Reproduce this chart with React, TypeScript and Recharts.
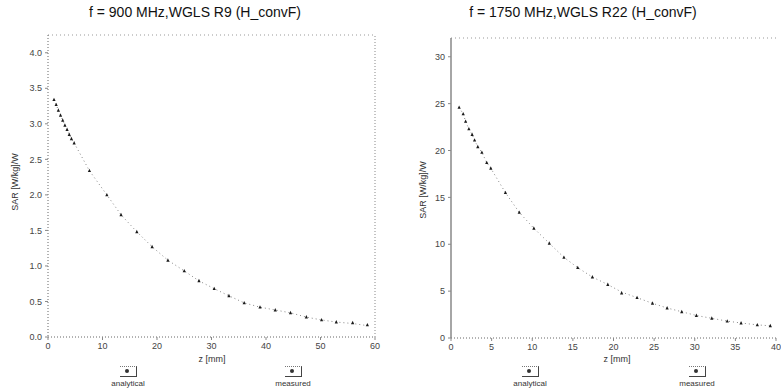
import React from "react";
import { ComposedChart, Line, XAxis, YAxis, ReferenceLine } from "recharts";

// Left panel: f = 900 MHz
const LEFT_Z = [1.1, 1.5, 1.9, 2.3, 2.7, 3.1, 3.5, 3.9, 4.3, 4.8, 7.6, 10.8, 13.4, 16.3, 19.1, 22.0, 25.0, 27.7, 30.5, 33.2, 36.0, 38.9, 41.7, 44.5, 47.4, 50.2, 52.9, 55.9, 58.6];
const LEFT_MEASURED = [3.34, 3.27, 3.19, 3.12, 3.05, 2.98, 2.92, 2.85, 2.79, 2.73, 2.34, 2.0, 1.72, 1.48, 1.27, 1.08, 0.93, 0.79, 0.68, 0.58, 0.48, 0.42, 0.38, 0.34, 0.28, 0.24, 0.21, 0.2, 0.17];
const LEFT_ANALYTICAL = [3.34, 3.27, 3.19, 3.12, 3.05, 2.98, 2.92, 2.85, 2.79, 2.73, 2.34, 2.0, 1.72, 1.48, 1.27, 1.08, 0.93, 0.79, 0.68, 0.58, 0.48, 0.42, 0.38, 0.34, 0.28, 0.24, 0.21, 0.19, 0.16];
const LEFT_X_TICKS = [0, 10, 20, 30, 40, 50, 60];
const LEFT_Y_TICKS = [0, 0.5, 1.0, 1.5, 2.0, 2.5, 3.0, 3.5, 4.0];

// Right panel: f = 1750 MHz
const RIGHT_Z = [1.0, 1.5, 1.8, 2.2, 2.6, 2.9, 3.3, 3.8, 4.4, 4.9, 6.7, 8.4, 10.2, 12.1, 13.9, 15.6, 17.4, 19.3, 21.0, 22.9, 24.8, 26.6, 28.4, 30.2, 32.1, 34.0, 35.7, 37.7, 39.3];
const RIGHT_MEASURED = [24.6, 23.9, 23.1, 22.3, 21.7, 21.1, 20.4, 19.8, 18.7, 18.1, 15.5, 13.4, 11.7, 10.1, 8.6, 7.5, 6.5, 5.7, 4.8, 4.3, 3.7, 3.2, 2.8, 2.4, 2.1, 1.8, 1.6, 1.4, 1.3];
const RIGHT_ANALYTICAL = [24.6, 23.9, 23.1, 22.3, 21.7, 21.1, 20.4, 19.8, 18.7, 18.1, 15.5, 13.4, 11.7, 10.1, 8.6, 7.5, 6.5, 5.7, 4.9, 4.3, 3.7, 3.2, 2.8, 2.4, 2.1, 1.8, 1.6, 1.4, 1.3];
const RIGHT_X_TICKS = [0, 5, 10, 15, 20, 25, 30, 35, 40];
const RIGHT_Y_TICKS = [0, 5, 10, 15, 20, 25, 30];

const FONT = "'Liberation Sans', Arial, sans-serif";

const Marker = (props: any) => {
  const { cx, cy } = props;
  if (cx == null || cy == null) return null;
  return (
    <path
      d={`M${cx},${cy - 2} L${cx + 1.6},${cy + 1.4} L${cx - 1.6},${cy + 1.4} Z`}
      fill="#1a1a1a"
    />
  );
};

function buildRows(z: number[], m: number[], a: number[]) {
  return z.map((zz, i) => ({ z: zz, m: m[i], a: a[i] }));
}

const abs = (style: React.CSSProperties): React.CSSProperties => ({
  position: "absolute",
  fontFamily: FONT,
  whiteSpace: "nowrap",
  ...style,
});

const LegendIcon = () => (
  <div
    style={{
      width: 16,
      height: 9,
      borderTop: "1px dotted #777",
      borderRight: "1px solid #444",
      borderBottom: "1px solid #444",
      position: "relative",
    }}
  >
    <div
      style={{
        position: "absolute",
        left: 5,
        top: 2,
        width: 4,
        height: 4,
        borderRadius: 2,
        background: "#333",
      }}
    />
  </div>
);

export default function App() {
  const leftRows = buildRows(LEFT_Z, LEFT_MEASURED, LEFT_ANALYTICAL);
  const rightRows = buildRows(RIGHT_Z, RIGHT_MEASURED, RIGHT_ANALYTICAL);
  const tickStyle = { fontSize: 9, fill: "#444", fontFamily: FONT };

  return (
    <div style={{ position: "absolute", left: 0, top: 0, width: 781, height: 391, background: "#fff", overflow: "hidden" }}>
      {/* Left chart */}
      <div style={{ position: "absolute", left: 0, top: 0 }}>
        <ComposedChart width={390} height={391} data={leftRows} margin={{ top: 35, right: 15, left: 0, bottom: 24 }}>
          <XAxis
            type="number"
            dataKey="z"
            domain={[0, 60]}
            ticks={LEFT_X_TICKS}
            height={30}
            tick={tickStyle}
            tickSize={3}
            tickMargin={3}
            axisLine={{ stroke: "#666", strokeDasharray: "1 2" }}
            tickLine={{ stroke: "#888" }}
          />
          <YAxis
            type="number"
            domain={[0, 4.25]}
            ticks={LEFT_Y_TICKS}
            width={48}
            tick={tickStyle}
            tickFormatter={(v: number) => v.toFixed(1)}
            tickSize={3}
            tickMargin={3}
            axisLine={{ stroke: "#666", strokeDasharray: "1 2" }}
            tickLine={{ stroke: "#888" }}
          />
          <ReferenceLine y={4.25} stroke="#999" strokeDasharray="1 3" />
          <ReferenceLine x={60} stroke="#888" strokeDasharray="1 2" />
          <Line type="linear" dataKey="a" stroke="#888" strokeWidth={1} strokeDasharray="1 3" dot={false} isAnimationActive={false} />
          <Line type="linear" dataKey="m" stroke="none" dot={<Marker />} activeDot={false} isAnimationActive={false} />
        </ComposedChart>
      </div>

      {/* Right chart */}
      <div style={{ position: "absolute", left: 390, top: 0 }}>
        <ComposedChart width={391} height={391} data={rightRows} margin={{ top: 38, right: 5, left: 0, bottom: 23 }}>
          <XAxis
            type="number"
            dataKey="z"
            domain={[0, 40]}
            ticks={RIGHT_X_TICKS}
            height={30}
            tick={tickStyle}
            tickSize={3}
            tickMargin={3}
            axisLine={{ stroke: "#666", strokeDasharray: "1 2" }}
            tickLine={{ stroke: "#888" }}
          />
          <YAxis
            type="number"
            domain={[0, 32]}
            ticks={RIGHT_Y_TICKS}
            width={61}
            tick={tickStyle}
            tickSize={3}
            tickMargin={3}
            axisLine={{ stroke: "#888", strokeWidth: 1.5 }}
            tickLine={{ stroke: "#888" }}
          />
          <ReferenceLine y={32} stroke="#999" strokeDasharray="1 3" />
          <Line type="linear" dataKey="a" stroke="#888" strokeWidth={1} strokeDasharray="1 3" dot={false} isAnimationActive={false} />
          <Line type="linear" dataKey="m" stroke="none" dot={<Marker />} activeDot={false} isAnimationActive={false} />
        </ComposedChart>
      </div>

      {/* Titles */}
      <div style={abs({ left: 0, width: 390, top: 4, textAlign: "center", fontSize: 14, color: "#111" })}>
        f = 900 MHz,WGLS R9 (H_convF)
      </div>
      <div style={abs({ left: 390, width: 386, top: 4, textAlign: "center", fontSize: 14, color: "#111" })}>
        f = 1750 MHz,WGLS R22 (H_convF)
      </div>

      {/* Y axis labels */}
      <div style={abs({ left: 15, top: 182, fontSize: 9, color: "#333", transform: "translate(-50%, -50%) rotate(-90deg)" })}>
        SAR [W/kg]/W
      </div>
      <div style={abs({ left: 423, top: 190, fontSize: 9, color: "#333", transform: "translate(-50%, -50%) rotate(-90deg)" })}>
        SAR [W/kg]/W
      </div>

      {/* X axis labels */}
      <div style={abs({ left: 212, top: 359, fontSize: 9, color: "#333", transform: "translate(-50%, -50%)" })}>z [mm]</div>
      <div style={abs({ left: 617, top: 359, fontSize: 9, color: "#333", transform: "translate(-50%, -50%)" })}>z [mm]</div>

      {/* Legends */}
      {[
        { x: 128, label: "analytical" },
        { x: 293, label: "measured" },
        { x: 530, label: "analytical" },
        { x: 697, label: "measured" },
      ].map((l, i) => (
        <React.Fragment key={i}>
          <div style={{ position: "absolute", left: l.x - 8, top: 366 }}>
            <LegendIcon />
          </div>
          <div style={abs({ left: l.x, top: 383, fontSize: 8, color: "#333", transform: "translate(-50%, -50%)" })}>{l.label}</div>
        </React.Fragment>
      ))}
    </div>
  );
}
